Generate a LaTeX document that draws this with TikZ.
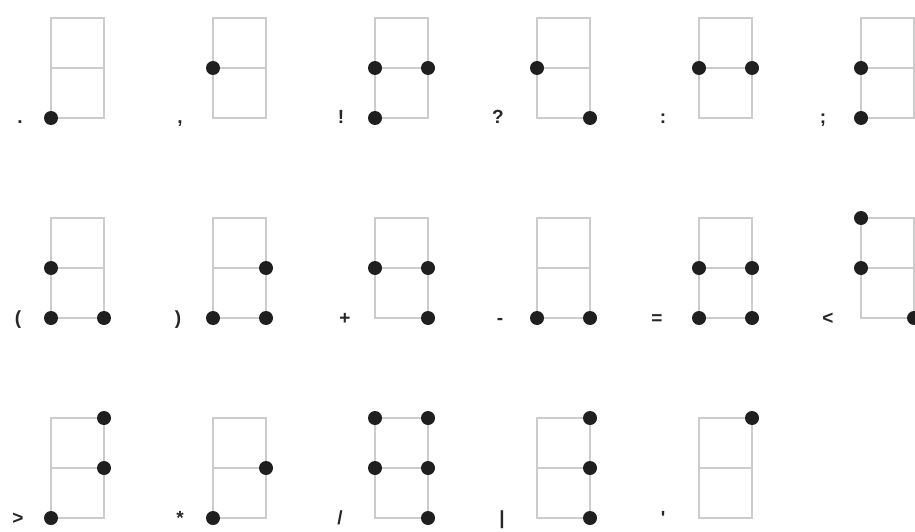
\documentclass[tikz,border=0pt]{standalone}
\usepackage{fontspec}
\setmainfont{Liberation Sans}
\tikzset{
  cellline/.style={draw=black!20, line width=1.5pt},
  brdot/.style={circle, fill=black!88, inner sep=0pt, minimum size=14pt},
  brlabel/.style={font=\bfseries\fontsize{19}{19}\selectfont, anchor=base, inner sep=0pt, text=black!85}
}
% #1 name, #2 left x, #3 top y, #4 label x, #5 label, #6 dots
\newcommand\brcell[6]{%
  \coordinate (#1-1) at (#2,#3);
  \coordinate (#1-2) at (#2,#3+50);
  \coordinate (#1-3) at (#2,#3+100);
  \coordinate (#1-4) at (#2+53,#3);
  \coordinate (#1-5) at (#2+53,#3+50);
  \coordinate (#1-6) at (#2+53,#3+100);
  \draw[cellline] (#1-1) rectangle (#1-6) (#1-2) -- (#1-5);
  \foreach \d in {#6} {\node[brdot] (#1-dot\d) at (#1-\d) {};}
  \node[brlabel] (#1-lab) at (#4,#3+106) {#5};
}
\begin{document}
\begin{tikzpicture}[x=1pt,y=-1pt]
  \useasboundingbox (0,0) rectangle (915,532);
  % row 1
  \brcell{a1}{51}{18}{20}{.}{3}
  \brcell{a2}{213}{18}{180}{,}{2}
  \brcell{a3}{375}{18}{341}{!}{2,3,5}
  \brcell{a4}{537}{18}{498}{?}{2,6}
  \brcell{a5}{699}{18}{663}{:}{2,5}
  \brcell{a6}{861}{18}{823}{;}{2,3}
  % row 2
  \brcell{b1}{51}{218}{18}{(}{2,3,6}
  \brcell{b2}{213}{218}{178}{)}{3,5,6}
  \brcell{b3}{375}{218}{345}{+}{2,5,6}
  \brcell{b4}{537}{218}{500}{-}{3,6}
  \brcell{b5}{699}{218}{657}{=}{2,3,5,6}
  \brcell{b6}{861}{218}{828}{<}{1,2,6}
  % row 3
  \brcell{c1}{51}{418}{18}{>}{3,4,5}
  \brcell{c2}{213}{418}{180}{*}{3,5}
  \brcell{c3}{375}{418}{340}{/}{1,2,4,5,6}
  \brcell{c4}{537}{418}{502}{|}{4,5,6}
  \brcell{c5}{699}{418}{663}{\textquotesingle}{4}
\end{tikzpicture}
\end{document}
